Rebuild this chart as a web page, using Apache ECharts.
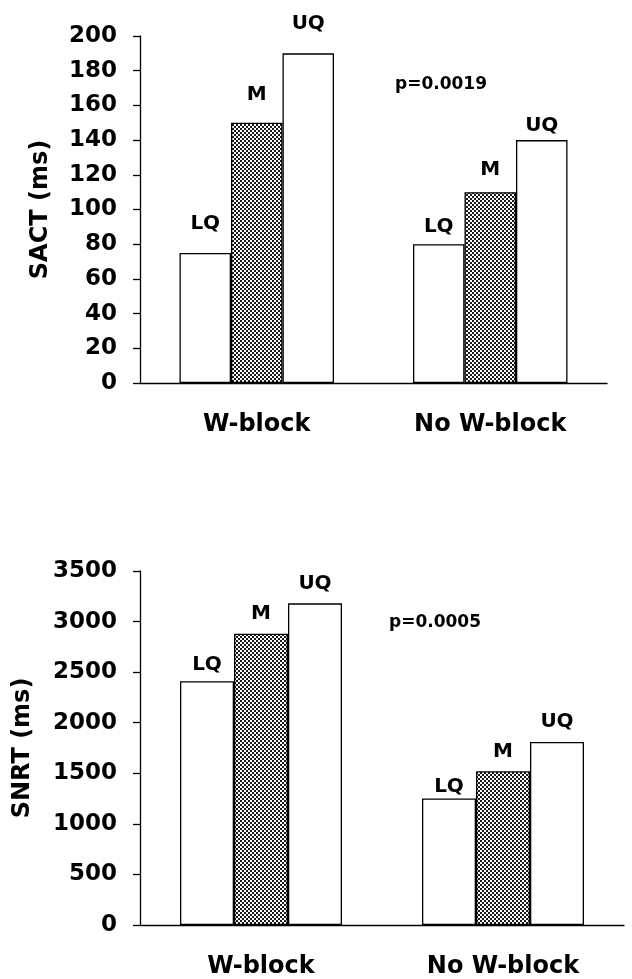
<!DOCTYPE html>
<html>
<head>
<meta charset="utf-8">
<script src="https://cdn.jsdelivr.net/npm/echarts@6/dist/echarts.min.js"></script>
<style>
html,body{margin:0;padding:0;background:#fff;}
#chart{width:632px;height:979px;}
</style>
</head>
<body>
<div id="chart"></div>
<script>
// ---- data ----
const categories = ['W-block', 'No W-block'];
const seriesNames = ['LQ', 'M', 'UQ'];
const sactLQ = [75, 80];
const sactM = [150, 110];
const sactUQ = [190, 140];
const snrtLQ = [2410, 1250];
const snrtM = [2880, 1520];
const snrtUQ = [3180, 1810];
const sactTicks = [0, 20, 40, 60, 80, 100, 120, 140, 160, 180, 200];
const snrtTicks = [0, 500, 1000, 1500, 2000, 2500, 3000, 3500];
const pTexts = ['p=0.0019', 'p=0.0005'];
const yTitles = ['SACT (ms)', 'SNRT (ms)'];

// ---- styling ----
const FONT = 'DejaVu Sans';
// label gaps above bars (style only), per series per category
const sactGaps = [[19, 7], [18, 12], [20, 4]];
const snrtGaps = [[6, 2], [10, 9], [10, 10]];

function makePattern() {
  const c = document.createElement('canvas');
  c.width = 4; c.height = 4;
  const g = c.getContext('2d');
  g.fillStyle = '#ffffff';
  g.fillRect(0, 0, 4, 4);
  g.fillStyle = '#1a1a1a';
  g.fillRect(0, 0, 2, 2);
  g.fillRect(2, 2, 2, 2);
  return c;
}
const pattern = { image: makePattern(), repeat: 'repeat' };

function buildSeries(valsList, gaps, axisIdx, barW) {
  return valsList.map((vals, si) => ({
    name: seriesNames[si],
    type: 'bar',
    xAxisIndex: axisIdx,
    yAxisIndex: axisIdx,
    barWidth: barW,
    barGap: '0%',
    itemStyle: {
      color: si === 1 ? pattern : '#ffffff',
      borderColor: '#000',
      borderWidth: 1.3
    },
    label: {
      show: true,
      position: 'top',
      formatter: seriesNames[si],
      fontFamily: FONT,
      fontWeight: 'bold',
      fontSize: 20,
      color: '#000'
    },
    data: vals.map((v, ci) => ({ value: v, label: { distance: gaps[si][ci] } }))
  }));
}

function xAxisCfg(gi) {
  return {
    type: 'category',
    gridIndex: gi,
    data: categories,
    axisLine: { lineStyle: { color: '#000', width: 1.3 } },
    axisTick: { length: 7, lineStyle: { color: '#000', width: 1.3 } },
    axisLabel: { fontFamily: FONT, fontWeight: 'bold', fontSize: 24, color: '#000', margin: 30 }
  };
}
function yAxisCfg(gi, ticks, title, gap) {
  return {
    type: 'value',
    gridIndex: gi,
    min: ticks[0],
    max: ticks[ticks.length - 1],
    interval: ticks[1] - ticks[0],
    name: title,
    nameLocation: 'middle',
    nameGap: gap,
    nameTextStyle: { fontFamily: FONT, fontWeight: 'bold', fontSize: 24, color: '#000' },
    axisLine: { show: true, lineStyle: { color: '#000', width: 1.3 } },
    axisTick: { show: true, length: 7, lineStyle: { color: '#000', width: 1.3 } },
    splitLine: { show: false },
    axisLabel: {
      fontFamily: FONT, fontWeight: 'bold', fontSize: 23, color: '#000', margin: 23,
      formatter: (v) => String(v)
    }
  };
}

const chart = echarts.init(document.getElementById('chart'), null, { renderer: 'canvas' });
chart.setOption({
  backgroundColor: '#fff',
  animation: false,
  grid: [
    { left: 140, top: 36, width: 467, height: 347 },
    { left: 140, top: 571, width: 484, height: 354 }
  ],
  xAxis: [xAxisCfg(0), xAxisCfg(1)],
  yAxis: [yAxisCfg(0, sactTicks, yTitles[0], 87), yAxisCfg(1, snrtTicks, yTitles[1], 105)],
  series: [
    ...buildSeries([sactLQ, sactM, sactUQ], sactGaps, 0, 51.5),
    ...buildSeries([snrtLQ, snrtM, snrtUQ], snrtGaps, 1, 54)
  ],
  graphic: [
    { type: 'text', left: 395, top: 76, style: { text: pTexts[0], font: 'bold 17px "DejaVu Sans"', fill: '#000' } },
    { type: 'text', left: 389, top: 614, style: { text: pTexts[1], font: 'bold 17px "DejaVu Sans"', fill: '#000' } }
  ]
});
</script>
</body>
</html>
